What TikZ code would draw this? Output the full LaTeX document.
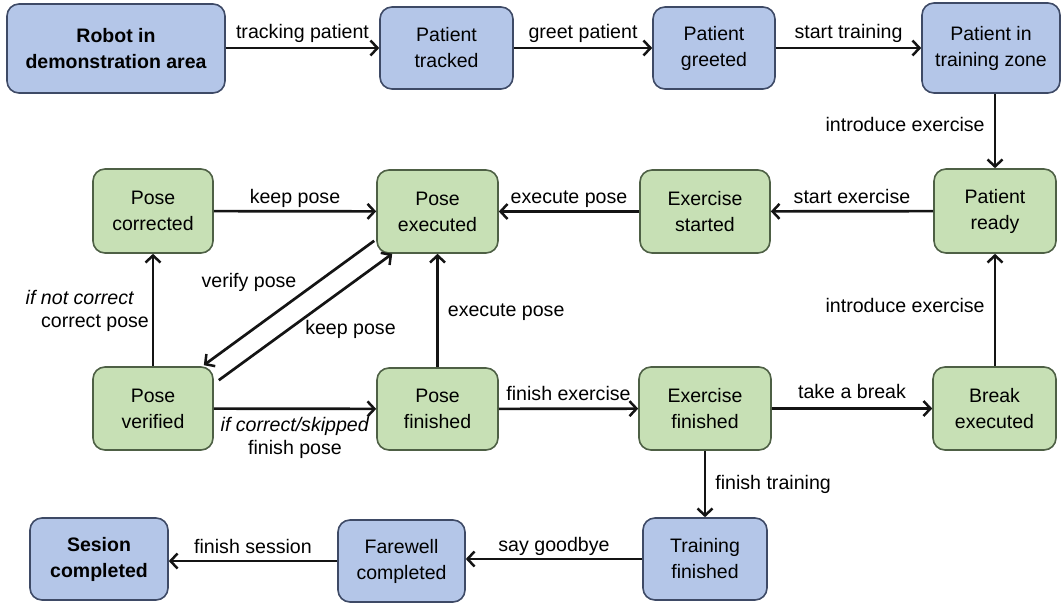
\documentclass[tikz,border=0pt]{standalone}
\usepackage{fontspec}
\setmainfont{Liberation Sans}
\usetikzlibrary{arrows.meta,calc}

\definecolor{bluefill}{HTML}{B4C6E8}
\definecolor{blueline}{HTML}{3E4A66}
\definecolor{greenfill}{HTML}{C7E0B5}
\definecolor{greenline}{HTML}{4E6045}

\tikzset{
  statebox/.style={draw, line width=1.6pt, rounded corners=12pt, align=center,
    inner sep=0pt, font=\fontsize{19.5}{26}\selectfont},
  bluestate/.style={statebox, fill=bluefill, draw=blueline},
  greenstate/.style={statebox, fill=greenfill, draw=greenline},
  trans/.style={line width=2.7pt, draw=black!92,
    -{Straight Barb[length=7pt,width=15pt,line width=2.5pt]}},
  lbltext/.style={font=\fontsize{19.6}{23}\selectfont, inner sep=4pt, align=center},
  lbl/.style={lbltext, text height=0.75em, text depth=0.25em},
}

\begin{document}
\begin{tikzpicture}[x=1pt, y=-1pt]
\useasboundingbox (0,0) rectangle (1062,607);

% states of the session
\node[bluestate, minimum width=218, minimum height=89] (robot) at (116,48.5)
  {\bfseries Robot in\\\bfseries demonstration area};
\node[bluestate, minimum width=133, minimum height=82] (tracked) at (446.5,48) {Patient\\tracked};
\node[bluestate, minimum width=122, minimum height=82] (greeted) at (714,48) {Patient\\greeted};
\node[bluestate, minimum width=138, minimum height=90] (zone) at (991,48) {Patient in\\training zone};

\node[greenstate, minimum width=122, minimum height=84] (ready) at (995,211) {Patient\\ready};
\node[greenstate, minimum width=130, minimum height=83] (started) at (705,211.5) {Exercise\\started};
\node[greenstate, minimum width=121, minimum height=83] (executed) at (437.5,211.5) {Pose\\executed};
\node[greenstate, minimum width=120, minimum height=84] (corrected) at (153,211) {Pose\\corrected};
\node[greenstate, minimum width=120, minimum height=83] (verified) at (153,408.5) {Pose\\verified};
\node[greenstate, minimum width=121, minimum height=82] (posefin) at (437.5,409) {Pose\\finished};
\node[greenstate, minimum width=132, minimum height=83] (exfin) at (705,408.5) {Exercise\\finished};
\node[greenstate, minimum width=123, minimum height=83] (break) at (994.5,408.5) {Break\\executed};

\node[bluestate, minimum width=124, minimum height=82] (trainfin) at (705,559) {Training\\finished};
\node[bluestate, minimum width=127, minimum height=82] (farewell) at (401.5,561) {Farewell\\completed};
\node[bluestate, minimum width=138, minimum height=82] (session) at (99,559)
  {\bfseries Sesion\\\bfseries completed};

% transitions
\draw[trans] (robot.east |- 0,48) -- node[lbl, above, yshift=2] {tracking patient} (tracked.west |- 0,48);
\draw[trans] (tracked) -- node[lbl, above, yshift=2] {greet patient} (greeted);
\draw[trans] (greeted) -- node[lbl, above, yshift=2] {start training} (zone.west |- greeted);
\draw[trans] (zone.south -| ready) -- node[lbl, left=5pt, yshift=2] {introduce exercise} (ready);
\draw[trans] (ready) -- node[lbl, above] {start exercise} (started);
\draw[trans] (started) -- node[lbl, above] {execute pose} (executed);
\draw[trans] (corrected) -- node[lbl, above] {keep pose} (executed);
\draw[trans] (verified) -- node[lbltext, midway, xshift=-58, yshift=-1, anchor=center]
  {\textit{if not correct}\hspace*{30pt}\\correct pose} (corrected);
\draw[trans] ($(executed.south west)+(-2,-13)$) --
  node[lbl, midway, xshift=-40, yshift=18.5, anchor=center] {verify pose}
  ($(verified.north east)+(-10,-1)$);
\draw[trans] ($(verified.north east)+(5,14)$) --
  node[lbl, midway, xshift=45, yshift=-15, anchor=center] {keep pose}
  ($(executed.south west)+(16,0)$);
\draw[trans] (verified) -- node[lbltext, below, yshift=-3] {\textit{if correct/skipped}\\finish pose} (posefin);
\draw[trans] (posefin) -- node[lbl, right=5pt, yshift=-3] {execute pose} (executed);
\draw[trans] (posefin) -- node[lbl, above] {finish exercise} (exfin);
\draw[trans] (exfin) -- node[lbl, above, yshift=2] {take a break} (break);
\draw[trans] (break.north -| ready) -- node[lbl, left=5pt] {introduce exercise} (ready);
\draw[trans] (exfin) -- node[lbl, right=5pt, yshift=-3] {finish training} (trainfin);
\draw[trans] (trainfin.west) -- node[lbl, above] {say goodbye} (farewell.east |- trainfin.west);
\draw[trans] (farewell.west |- 0,561) -- node[lbl, above] {finish session} (session.east |- 0,561);
\end{tikzpicture}
\end{document}
